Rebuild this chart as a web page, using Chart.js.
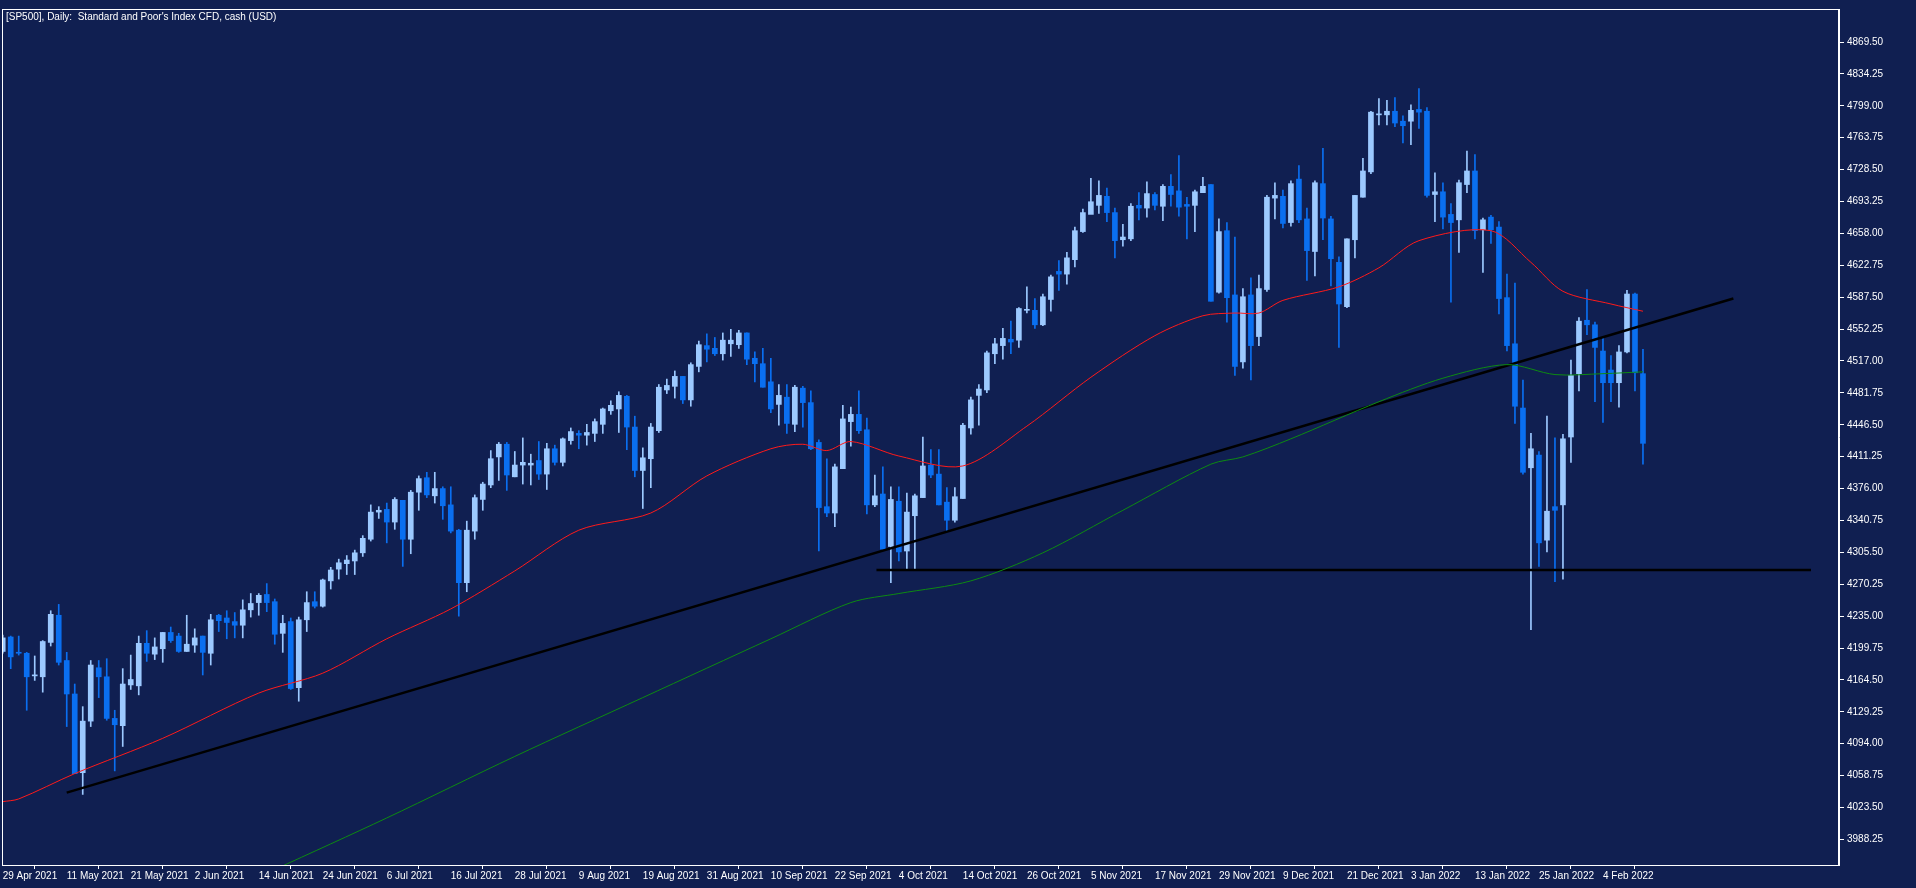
<!DOCTYPE html>
<html><head><meta charset="utf-8">
<script src="https://cdn.jsdelivr.net/npm/chart.js@4.4.1/dist/chart.umd.min.js"></script>
<style>html,body{margin:0;padding:0;background:#101f51;overflow:hidden}canvas{display:block}</style>
</head><body>
<canvas id="c" width="1916" height="888"></canvas>
<script>
const title = "[SP500], Daily:  Standard and Poor's Index CFD, cash (USD)";
const dateLabels = ["29 Apr 2021","11 May 2021","21 May 2021","2 Jun 2021","14 Jun 2021","24 Jun 2021","6 Jul 2021","16 Jul 2021","28 Jul 2021","9 Aug 2021","19 Aug 2021","31 Aug 2021","10 Sep 2021","22 Sep 2021","4 Oct 2021","14 Oct 2021","26 Oct 2021","5 Nov 2021","17 Nov 2021","29 Nov 2021","9 Dec 2021","21 Dec 2021","3 Jan 2022","13 Jan 2022","25 Jan 2022","4 Feb 2022"];
const opens = [
4196,4212,4195,4194,4169,4168,4206,4236,4186,4149,
4062,4119,4178,4168,4122,4114,4159,4158,4205,4193,
4199,4217,4213,4196,4203,4213,4194,4236,4233,4229,
4225,4242,4250,4259,4251,4216,4229,4156,4231,4251,
4246,4274,4287,4293,4296,4305,4320,4350,4353,4339,
4363,4320,4372,4388,4368,4376,4358,4330,4272,4329,
4364,4380,4411,4425,4389,4402,4402,4407,4392,4420,
4405,4429,4437,4435,4437,4447,4462,4464,4478,4444,
4396,4409,4440,4485,4489,4500,4474,4511,4534,4531,
4525,4536,4535,4548,4520,4514,4494,4469,4477,4447,
4487,4471,4427,4356,4349,4398,4450,4458,4441,4358,
4370,4312,4362,4307,4346,4366,4402,4392,4361,4341,
4365,4443,4479,4485,4525,4534,4541,4540,4573,4573,
4557,4585,4616,4613,4629,4660,4679,4689,4699,4681,
4651,4652,4689,4686,4701,4688,4710,4705,4690,4689,
4703,4712,4593,4661,4590,4516,4590,4544,4596,4697,
4699,4670,4718,4674,4638,4713,4674,4626,4577,4651,
4698,4726,4789,4789,4793,4782,4782,4795,4793,4701,
4704,4679,4673,4712,4727,4662,4676,4665,4587,4536,
4465,4399,4413,4319,4356,4358,4433,4503,4562,4557,
4528,4507,4493,4527,4591,4503];
const highs = [
4214,4213,4213,4195,4191,4208,4241,4248,4195,4160,
4135,4186,4186,4188,4131,4177,4192,4213,4219,4211,
4217,4223,4216,4236,4221,4213,4237,4237,4241,4239,
4253,4260,4260,4271,4254,4236,4233,4234,4262,4262,
4276,4289,4298,4302,4308,4324,4358,4356,4360,4366,
4363,4374,4390,4394,4394,4378,4378,4331,4340,4369,
4383,4418,4427,4427,4417,4432,4414,4428,4426,4424,
4432,4443,4440,4447,4453,4465,4473,4483,4479,4456,
4421,4448,4491,4497,4506,4500,4515,4539,4547,4543,
4548,4552,4551,4548,4527,4531,4520,4491,4491,4490,
4489,4484,4430,4409,4403,4468,4466,4484,4454,4391,
4400,4378,4378,4371,4370,4433,4419,4419,4377,4377,
4448,4477,4491,4528,4542,4553,4561,4576,4599,4586,
4591,4612,4628,4637,4665,4685,4719,4716,4708,4686,
4668,4691,4703,4715,4703,4712,4723,4744,4698,4706,
4720,4712,4674,4670,4654,4597,4609,4612,4700,4714,
4706,4716,4733,4686,4716,4752,4677,4632,4652,4700,
4741,4793,4807,4805,4808,4788,4800,4818,4797,4725,
4714,4691,4717,4749,4745,4675,4678,4671,4613,4603,
4496,4437,4417,4456,4432,4436,4518,4565,4596,4560,
4542,4523,4534,4595,4592,4530];
const lows = [
4194,4177,4192,4131,4164,4151,4202,4181,4113,4061,
4038,4113,4145,4120,4064,4091,4154,4148,4185,4187,
4184,4206,4195,4196,4195,4170,4181,4218,4210,4211,
4211,4234,4236,4240,4204,4195,4154,4141,4218,4244,
4245,4265,4276,4281,4281,4301,4318,4343,4316,4331,
4290,4304,4352,4366,4360,4342,4327,4235,4262,4320,
4352,4377,4385,4374,4389,4381,4380,4386,4375,4402,
4401,4425,4420,4424,4428,4437,4458,4438,4419,4389,
4354,4377,4438,4481,4476,4470,4467,4505,4516,4523,
4518,4522,4531,4513,4494,4488,4460,4446,4437,4439,
4444,4419,4307,4345,4334,4398,4423,4437,4348,4356,
4309,4272,4296,4286,4286,4366,4388,4358,4329,4339,
4365,4436,4446,4482,4514,4519,4525,4532,4570,4553,
4556,4572,4595,4602,4621,4659,4680,4680,4671,4631,
4644,4650,4673,4676,4684,4672,4688,4677,4652,4660,
4703,4583,4592,4560,4501,4509,4496,4534,4594,4674,
4664,4666,4670,4606,4611,4651,4600,4532,4576,4631,
4698,4724,4778,4778,4776,4758,4756,4774,4698,4671,
4663,4582,4637,4703,4652,4615,4647,4569,4528,4448,
4392,4220,4290,4306,4273,4276,4405,4484,4546,4472,
4449,4472,4466,4526,4484,4403];
const closes = [
4211,4190,4194,4168,4169,4207,4237,4184,4149,4061,
4119,4181,4168,4122,4115,4160,4165,4205,4194,4201,
4217,4208,4196,4204,4211,4195,4231,4230,4228,4225,
4242,4249,4258,4250,4215,4227,4155,4231,4250,4246,
4275,4286,4294,4297,4305,4321,4350,4352,4339,4364,
4320,4372,4387,4369,4376,4357,4329,4272,4330,4366,
4381,4409,4425,4391,4402,4405,4404,4392,4420,4405,
4431,4439,4435,4438,4450,4464,4468,4479,4444,4396,
4410,4444,4488,4490,4500,4474,4513,4535,4530,4525,
4540,4540,4548,4519,4514,4488,4464,4479,4448,4488,
4471,4420,4355,4349,4400,4453,4458,4440,4358,4368,
4309,4364,4306,4350,4368,4401,4391,4358,4341,4367,
4446,4474,4486,4526,4536,4542,4538,4575,4574,4557,
4588,4610,4613,4631,4661,4681,4693,4700,4681,4650,
4654,4688,4686,4702,4689,4710,4701,4687,4688,4704,
4710,4583,4660,4587,4511,4588,4534,4597,4698,4700,
4669,4713,4673,4639,4714,4675,4630,4580,4652,4700,
4727,4792,4790,4793,4780,4777,4794,4792,4700,4704,
4676,4670,4714,4727,4661,4673,4662,4586,4534,4467,
4394,4420,4316,4351,4352,4431,4501,4561,4557,4532,
4493,4493,4527,4591,4504,4426];
// moving averages: [bar, value]
const redMA = [[0,4030],[2,4033],[9,4061],[20,4100],[32,4150],[40,4172],[48,4210],[56,4243],[64,4285],[72,4330],[81,4349],[88,4390],[96,4420],[100,4425],[103,4418],[106,4428],[112,4412],[120,4401],[128,4445],[136,4499],[144,4545],[150,4567],[154,4570],[157,4570],[160,4584],[167,4599],[172,4620],[177,4650],[186,4661],[191,4626],[195,4594],[201,4580],[205,4572]];
const greenMA = [[34,3955],[48,4012],[64,4080],[80,4145],[96,4210],[106,4250],[112,4260],[121,4274],[130,4305],[140,4352],[151,4403],[155,4411],[161,4431],[172,4472],[180,4498],[188,4513],[194,4502],[200,4503],[205,4505]];
const trendLine = [[8,4040],[216.3,4586]];
const supportLine = [[109.2,4286],[226,4286]];
const yTickStart = 3988.25, yTickStep = 35.25, yTickCount = 26;

const BULL = '#9cc9ff', BEAR = '#0a6ff0', BG = '#101f51';
const idx = closes.map((_, i) => i);
const col = idx.map(i => closes[i] >= opens[i] ? BULL : BEAR);
const pts = a => a.map(p => ({x: p[0], y: p[1]}));
const FONT = {family:'Liberation Sans', size:10};

new Chart(document.getElementById('c'), {
  data: {
    datasets: [
      {type:'line', data: pts(redMA), borderColor:'#ff1a1a', borderWidth:1, pointRadius:0, tension:0.3, order:0},
      {type:'line', data: pts(greenMA), borderColor:'#0d8a12', borderWidth:1, pointRadius:0, tension:0.3, order:0},
      {type:'line', data: pts(trendLine), borderColor:'#000000', borderWidth:2.5, pointRadius:0, order:0},
      {type:'line', data: pts(supportLine), borderColor:'#000000', borderWidth:2.5, pointRadius:0, order:0},
      {type:'bar', data: idx.map(i => ({x:i, y:[lows[i], highs[i]]})), backgroundColor: col, barThickness:1, grouped:false, order:2},
      {type:'bar', data: idx.map(i => ({x:i, y:[opens[i], closes[i]]})), backgroundColor: col, barThickness:5, minBarLength:1, grouped:false, order:1}
    ]
  },
  options: {
    responsive:false, animation:false, devicePixelRatio:1,
    layout:{padding:{left:2, top:1, right:0, bottom:0}},
    plugins:{legend:{display:false}, tooltip:{enabled:false}},
    scales:{
      x:{type:'linear', min:-0.09, max:229.5, offset:false,
        afterBuildTicks: s => { s.ticks = dateLabels.map((_, k) => ({value: k*8})); },
        afterFit: s => { s.height = 23; },
        ticks:{autoSkip:false, maxRotation:0, align:'start', color:'#ffffff', padding:1,
          font:FONT, callback:(v) => dateLabels[Math.round(v/8)]},
        grid:{drawOnChartArea:false, color:'#ffffff', tickLength:4},
        border:{color:'#ffffff', width:1}},
      y:{type:'linear', position:'right', min:3960, max:4906,
        afterBuildTicks: s => { s.ticks = Array.from({length:yTickCount}, (_, k) => ({value: yTickStart + k*yTickStep})); },
        afterFit: s => { s.width = 77; },
        ticks:{color:'#ffffff', padding:3, font:FONT, callback:v => v.toFixed(2)},
        grid:{drawOnChartArea:false, color:'#ffffff', tickLength:5},
        border:{color:'#ffffff', width:1}}
    }
  },
  plugins:[{
    id:'bg',
    beforeDraw(chart){ const c=chart.ctx; c.save(); c.fillStyle=BG; c.fillRect(0,0,chart.width,chart.height); c.restore(); },
    afterDraw(chart){
      const c=chart.ctx, a=chart.chartArea; c.save();
      c.strokeStyle='#ffffff'; c.lineWidth=1;
      c.strokeRect(a.left+0.5, a.top+0.5, a.right-a.left-1, a.bottom-a.top);
      c.fillStyle='#ffffff'; c.font='10px "Liberation Sans"'; c.textBaseline='top';
      c.fillText(title, a.left+4, a.top+3);
      c.restore();
    }
  }]
});
</script>
</body></html>
